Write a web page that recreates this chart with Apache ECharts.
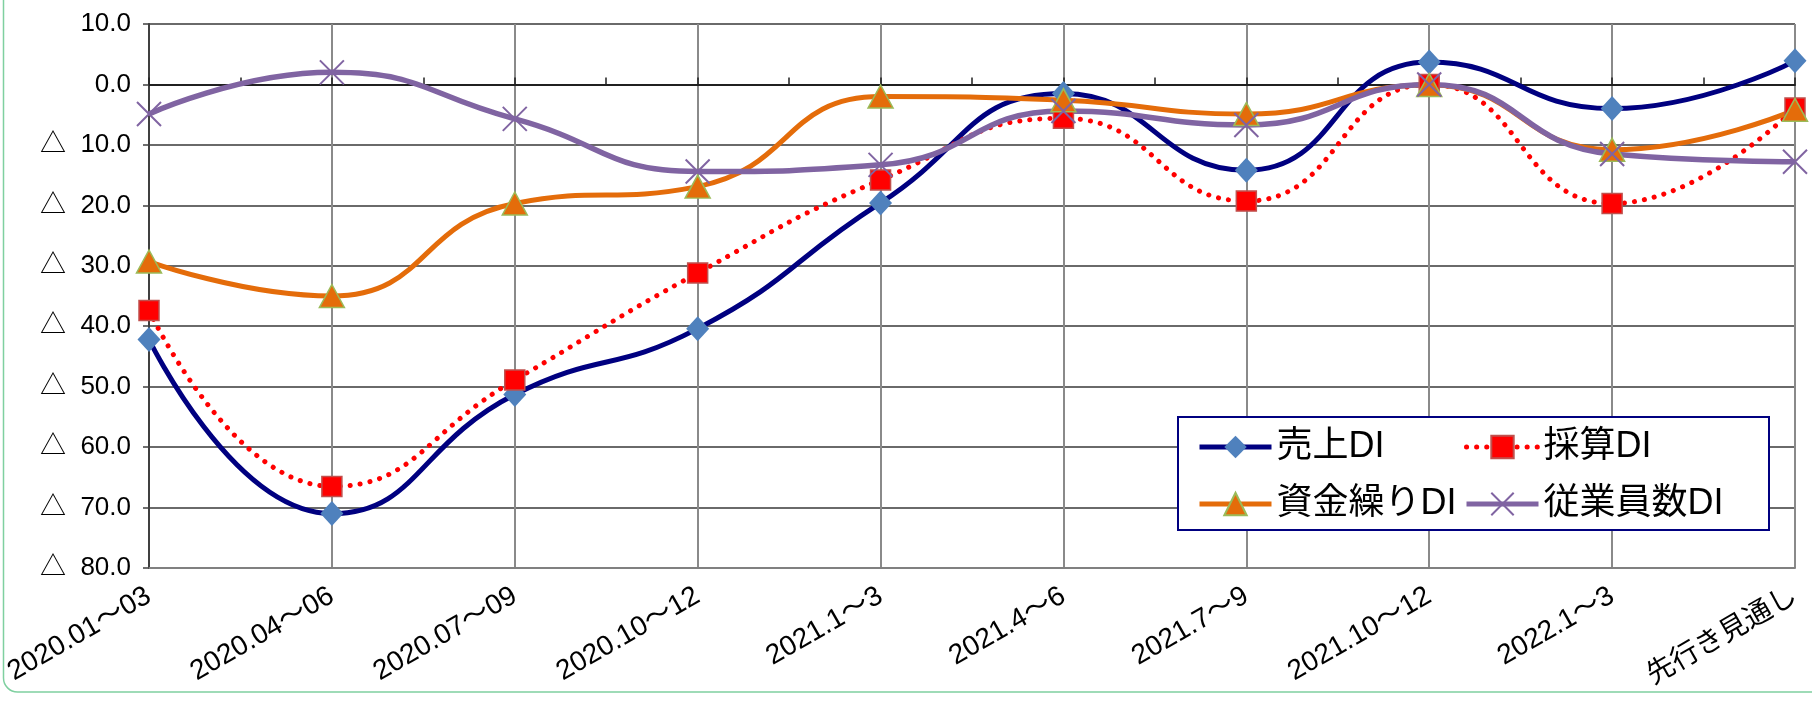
<!DOCTYPE html>
<html>
<head>
<meta charset="utf-8">
<script src="https://cdn.jsdelivr.net/npm/echarts@6/dist/echarts.min.js"></script>
<style>
html,body{margin:0;padding:0;background:#fff;}
#chart{width:1812px;height:705px;}
</style>
</head>
<body>
<div id="chart"></div>
<script>
const categories = ['2020.01～03','2020.04～06','2020.07～09','2020.10～12','2021.1～3','2021.4～6','2021.7～9','2021.10～12','2022.1～3','先行き見通し'];
const halfTicks = ['a','b','c','d','e','f','g','h','i','j','k','l','m','n','o','p','q','r','s'];
const sales = [-42.2, -71.0, -51.3, -40.4, -19.6, -1.5, -14.2, 3.7, -4.0, 3.9];
const profit = [-37.4, -66.5, -48.9, -31.2, -15.8, -5.6, -19.3, 0.0, -19.7, -3.9];
const funding = [-29.3, -35.0, -19.7, -16.9, -2.0, -2.6, -4.9, -0.1, -10.8, -4.2];
const employees = [-4.9, 2.0, -5.7, -14.4, -13.3, -4.4, -6.7, 0.0, -11.5, -12.8];
const seriesNames = ['売上DI','採算DI','資金繰りDI','従業員数DI'];
const yMin = -80, yMax = 10, yStep = 10;

const FONT = '"Liberation Sans", "Noto Sans CJK JP", sans-serif';
const chart = echarts.init(document.getElementById('chart'));
const SMOOTH = 0.5;
const xPath = 'path://M0,0L10,10M10,0L0,10';

function legendAt(name, left, top) {
  return {
    data: [name], left: left, top: top, itemWidth: 72, itemHeight: 28, itemGap: 0,
    lineStyle: {width: 5},
    textStyle: {fontSize: 36, fontFamily: FONT, color: '#000', padding: [0,0,0,0]},
    selectedMode: false
  };
}

chart.setOption({
  backgroundColor: '#fff',
  animation: false,
  grid: {left: 149, right: 17, top: 24, bottom: 137, containLabel: false},
  xAxis: [{
    type: 'category', data: categories, boundaryGap: false,
    axisLine: {onZero: false, lineStyle: {color: '#808080', width: 2}},
    axisTick: {show: false},
    axisLabel: {rotate: 30, fontSize: 28, fontFamily: FONT, color: '#000', margin: 26, interval: 0},
    splitLine: {show: true, lineStyle: {color: '#8a8a8a', width: 2}}
  }, {
    type: 'category', data: halfTicks, boundaryGap: false, position: 'bottom',
    axisLine: {onZero: true, lineStyle: {color: '#202020', width: 2}},
    axisTick: {show: true, length: 7, inside: true, interval: 0, lineStyle: {color: '#202020', width: 1.5}},
    axisLabel: {show: false},
    splitLine: {show: false}
  }],
  yAxis: {
    type: 'value', min: yMin, max: yMax, interval: yStep,
    axisLine: {show: true, lineStyle: {color: '#404040', width: 2}},
    axisTick: {show: true, length: 6, lineStyle: {color: '#404040', width: 1.5}},
    axisLabel: {
      fontSize: 26, fontFamily: FONT, color: '#000', margin: 18,
      formatter: v => v < 0 ? '△  ' + Math.abs(v).toFixed(1) : v.toFixed(1)
    },
    splitLine: {show: true, lineStyle: {color: '#6a6a6a', width: 2}}
  },
  legend: [
    legendAt(seriesNames[0], 1192, 424),
    legendAt(seriesNames[1], 1459, 424),
    legendAt(seriesNames[2], 1192, 481),
    legendAt(seriesNames[3], 1459, 481)
  ],
  graphic: [
    {type: 'rect', z: 3, shape: {x: 1178, y: 417, width: 591, height: 113},
     style: {fill: '#fff', stroke: '#000080', lineWidth: 2}},
    {type: 'rect', z: 10, silent: true, shape: {x: 3.5, y: -30, width: 1900, height: 722, r: 14},
     style: {fill: 'none', stroke: '#7fd0a0', lineWidth: 1.5}}
  ],
  series: [
    {
      name: seriesNames[0], type: 'line', data: sales, smooth: SMOOTH,
      symbol: 'diamond', symbolSize: [23, 25],
      lineStyle: {color: '#000080', width: 5},
      itemStyle: {color: '#4f81bd', borderWidth: 0}
    },
    {
      name: seriesNames[1], type: 'line', data: profit, smooth: SMOOTH,
      symbol: 'rect', symbolSize: 20,
      lineStyle: {color: '#ff0000', width: 5, type: [0.1, 10], cap: 'round'},
      itemStyle: {color: '#ff0000', borderColor: '#c0504d', borderWidth: 1.5}
    },
    {
      name: seriesNames[2], type: 'line', data: funding, smooth: SMOOTH,
      symbol: 'triangle', symbolSize: [25, 23],
      lineStyle: {color: '#e46c0a', width: 5},
      itemStyle: {color: '#e46c0a', borderColor: '#9bbb59', borderWidth: 1.5}
    },
    {
      name: seriesNames[3], type: 'line', data: employees, smooth: SMOOTH,
      symbol: xPath, symbolSize: 24,
      lineStyle: {color: '#8064a2', width: 5.5},
      itemStyle: {color: 'rgba(0,0,0,0)', borderColor: '#8064a2', borderWidth: 2}
    }
  ]
});
</script>
</body>
</html>
